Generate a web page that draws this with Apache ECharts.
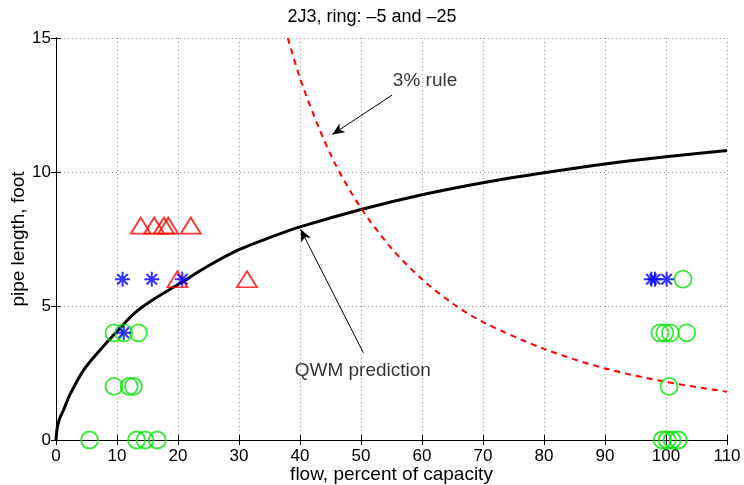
<!DOCTYPE html>
<html>
<head>
<meta charset="UTF-8">
<title>2J3 ring</title>
<script src="https://cdn.jsdelivr.net/npm/echarts@6/dist/echarts.min.js"></script>
</head>
<body style="margin:0">
<div id="main" style="width:744px;height:485px"></div>
<script>
var circles = [[5.5,0],[13.2,0],[14.6,0],[16.6,0],[9.5,2],[12.0,2],[12.7,2],[9.5,4],[11.1,4],[13.5,4],
               [99.4,0],[100.2,0],[101.0,0],[102.0,0],[100.5,2],[99.0,4],[99.8,4],[100.7,4],[103.4,4],[102.8,6]];
var stars = [[10.9,6],[15.7,6],[20.7,6],[11.1,4],[97.6,6],[98.2,6],[100.1,6]];
var triangles = [[13.9,8],[16.1,8],[17.7,8],[18.4,8],[22.1,8],[19.9,6],[31.3,6]];

// QWM prediction curve
var qwmX = [0,0.2,0.6,1.2,2.3,4.5,7.2,10,12.7,16,20,25,30,35,40,50,60,70,80,90,100,110];
var qwmY = [0,0.45,0.8,1.1,1.7,2.6,3.35,4.05,4.7,5.25,5.8,6.5,7.1,7.55,7.95,8.6,9.15,9.6,9.97,10.3,10.57,10.8];

// 3% rule curve
var ruleX = [38,40,43,46,50,55,60,65,70,80,90,100,110];
var ruleY = [15,13.5,11.7,10.2,8.65,7.15,6.0,5.1,4.4,3.4,2.67,2.17,1.8];

function pairs(xs, ys) {
  var out = [];
  for (var i = 0; i < xs.length; i++) out.push([xs[i], ys[i]]);
  return out;
}

var font = 'Liberation Sans, Arial, sans-serif';
var starPath = 'path://M0,-10L0,10M-10,0L10,0M-7,-7L7,7M-7,7L7,-7';

var myChart = echarts.init(document.getElementById('main'));

var gridLine = { show: true, lineStyle: { type: [1, 3], color: '#999', width: 1 } };

var option = {
  animation: false,
  backgroundColor: '#fff',
  title: {
    text: '2J3, ring: \u20135 and \u201325',
    left: 'center',
    top: 3,
    textStyle: { fontFamily: font, fontSize: 18, fontWeight: 'normal', color: '#000' }
  },
  grid: { left: 56, right: 17, top: 38, bottom: 45, outerBoundsMode: 'none' },
  xAxis: [{
    type: 'value', min: 0, max: 110, interval: 10,
    name: 'flow, percent of capacity', nameLocation: 'middle', nameGap: 25, nameMoveOverlap: false,
    nameTextStyle: { fontFamily: font, fontSize: 19, color: '#000' },
    axisLine: { lineStyle: { color: '#000', width: 1 } },
    axisTick: { inside: true, length: 5, lineStyle: { color: '#000' } },
    axisLabel: { fontFamily: font, fontSize: 17, color: '#000', margin: 8 },
    splitLine: gridLine
  }, {
    type: 'value', min: 0, max: 110, interval: 10, position: 'top',
    axisLine: { lineStyle: { color: '#000', width: 1 } },
    axisTick: { inside: true, length: 5, lineStyle: { color: '#000' } },
    axisLabel: { show: false }, splitLine: { show: false }
  }],
  yAxis: [{
    type: 'value', min: 0, max: 15, interval: 5,
    name: 'pipe length, foot', nameLocation: 'middle', nameGap: 28, nameMoveOverlap: false,
    nameTextStyle: { fontFamily: font, fontSize: 19, color: '#000' },
    axisLine: { show: true, lineStyle: { color: '#000', width: 1 } },
    axisTick: { show: true, inside: true, length: 5, lineStyle: { color: '#000' } },
    axisLabel: { fontFamily: font, fontSize: 17, color: '#000', margin: 5 },
    splitLine: gridLine
  }, {
    type: 'value', min: 0, max: 15, interval: 5, position: 'right',
    axisLine: { show: true, lineStyle: { color: '#000', width: 1 } },
    axisTick: { show: true, inside: true, length: 5, lineStyle: { color: '#000' } },
    axisLabel: { show: false }, splitLine: { show: false }
  }],
  series: [{
    name: 'QWM prediction', type: 'line', data: pairs(qwmX, qwmY),
    showSymbol: false, smooth: 0.3,
    lineStyle: { color: '#000', width: 3 }, z: 2
  }, {
    name: '3% rule', type: 'line', data: pairs(ruleX, ruleY),
    showSymbol: false, smooth: 0.3,
    lineStyle: { color: '#ff0000', width: 2, type: [6, 5] }, z: 2,
    markLine: {
      silent: true, symbol: ['none', 'arrow'], symbolSize: [8, 12],
      label: { show: false },
      lineStyle: { color: '#000', width: 1, type: 'solid' },
      data: [
        [{ coord: [55.1, 12.87] }, { coord: [45.3, 11.4] }],
        [{ coord: [50.4, 3.25] }, { coord: [40.1, 7.86] }]
      ]
    }
  }, {
    name: 'circles', type: 'scatter', data: circles,
    symbol: 'circle', symbolSize: 17,
    itemStyle: { color: 'none', borderColor: '#00e600', borderWidth: 1.8 }, z: 3
  }, {
    name: 'triangles', type: 'scatter', data: triangles,
    symbol: 'triangle', symbolSize: [20, 16],
    itemStyle: { color: 'none', borderColor: '#ff0000', borderWidth: 1.8 }, z: 3
  }, {
    name: 'stars', type: 'scatter', data: stars,
    symbol: starPath, symbolSize: 15,
    itemStyle: { color: 'none', borderColor: '#0000ff', borderWidth: 2 }, z: 4
  }, {
    name: 'notes', type: 'scatter', symbolSize: 0, silent: true,
    data: [
      { value: [60.5, 13.4], label: { formatter: '3% rule' } },
      { value: [50.3, 2.6], label: { formatter: 'QWM prediction' } }
    ],
    label: { show: true, position: 'inside', fontFamily: font, fontSize: 19, color: '#000' }
  }]
};

myChart.setOption(option);
</script>
</body>
</html>
